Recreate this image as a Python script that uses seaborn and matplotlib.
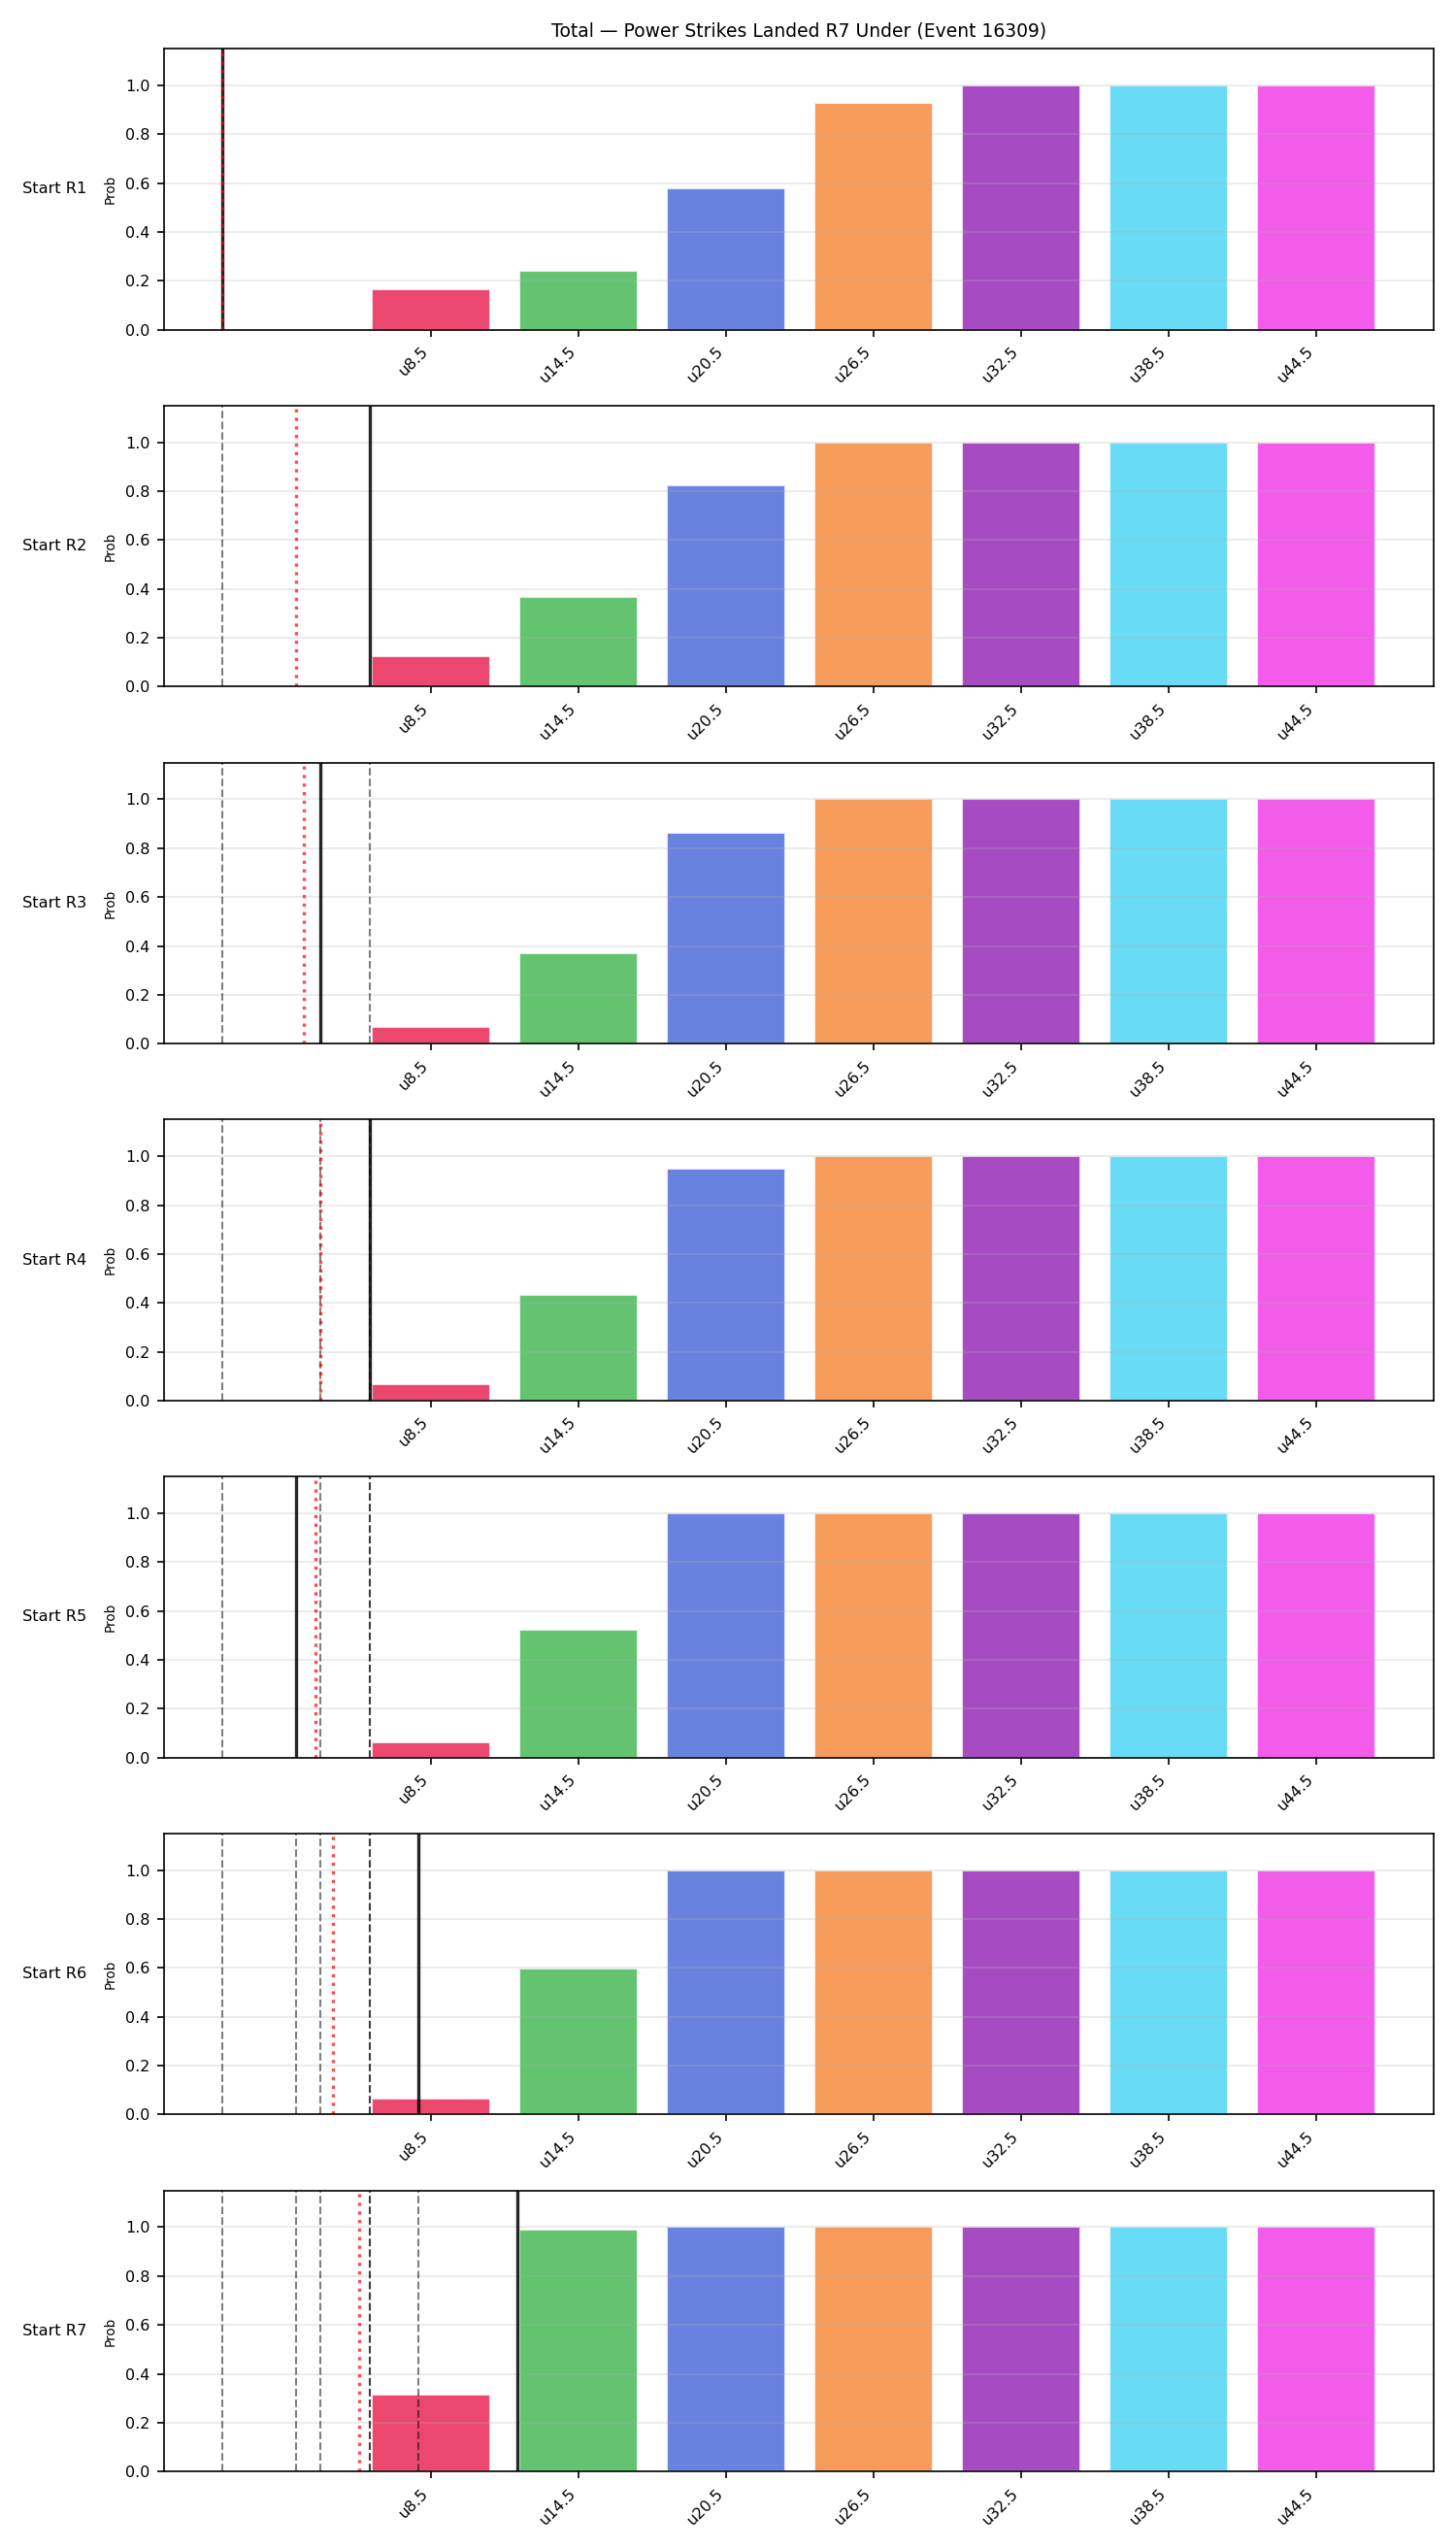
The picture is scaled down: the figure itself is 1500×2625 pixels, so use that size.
import matplotlib
matplotlib.use("Agg")
import matplotlib.pyplot as plt
import seaborn as sns
import pandas as pd

# strike lines shown as bars
line_labels = ["u8.5", "u14.5", "u20.5", "u26.5", "u32.5", "u38.5", "u44.5"]
line_values = [8.5, 14.5, 20.5, 26.5, 32.5, 38.5, 44.5]

# probability of landing under each line, by the round the projection starts from
start_rounds = ["Start R1", "Start R2", "Start R3", "Start R4", "Start R5", "Start R6", "Start R7"]
probs_r1 = [0.165, 0.24, 0.577, 0.93, 1.0, 1.0, 1.0]
probs_r2 = [0.125, 0.367, 0.822, 1.0, 1.0, 1.0, 1.0]
probs_r3 = [0.07, 0.369, 0.862, 1.0, 1.0, 1.0, 1.0]
probs_r4 = [0.066, 0.432, 0.951, 1.0, 1.0, 1.0, 1.0]
probs_r5 = [0.062, 0.522, 1.0, 1.0, 1.0, 1.0, 1.0]
probs_r6 = [0.066, 0.596, 1.0, 1.0, 1.0, 1.0, 1.0]
probs_r7 = [0.314, 0.988, 1.0, 1.0, 1.0, 1.0, 1.0]
all_probs = [probs_r1, probs_r2, probs_r3, probs_r4, probs_r5, probs_r6, probs_r7]

# strikes landed per round (solid line = current round, dashed = earlier rounds)
round_strikes = [0, 6, 4, 6, 3, 8, 12]
# running average up to the current round (red dotted line)
running_avg = [0.0, 3.0, 3.33, 4.0, 3.8, 4.5, 5.57]

palette = ["#e6194b", "#3cb44b", "#4363d8", "#f58231", "#911eb4", "#42d4f4", "#f032e6"]

sns.set_style("ticks", rc={
    "axes.axisbelow": "line",
    "axes.linewidth": 0.8,
    "axes.edgecolor": "black",
    "text.color": "black",
    "axes.labelcolor": "black",
    "xtick.color": "black",
    "ytick.color": "black",
})
plt.rcParams["font.family"] = ["DejaVu Sans"]

fig, axes = plt.subplots(len(start_rounds), 1, figsize=(10, 17.5), dpi=150)
fig.subplots_adjust(left=0.1127, right=0.9844, top=0.9809, bottom=0.030, hspace=0.27)

for i, ax in enumerate(axes):
    df = pd.DataFrame({"line": line_labels, "pos": line_values, "prob": all_probs[i]})
    sns.barplot(data=df, x="pos", y="prob", hue="line", palette=palette, saturation=1,
                native_scale=True, alpha=0.8, legend=False, width=0.8, ax=ax)

    for prev in round_strikes[:i]:
        ax.axvline(prev, color="black", linestyle="--", linewidth=1.0, alpha=0.5)
    ax.axvline(round_strikes[i], color="black", linestyle="-", linewidth=1.6, alpha=0.85)
    ax.axvline(running_avg[i], color="red", linestyle=":", linewidth=1.6, alpha=0.7)

    ax.set_xlim(-2.35, 49.25)
    ax.set_ylim(0, 1.15)
    ax.set_xticks(line_values)
    ax.set_xticklabels(line_labels, rotation=45, ha="right", fontsize=7.7)
    ax.tick_params(axis="y", labelsize=7.7)
    ax.grid(axis="y", color="#b0b0b0", alpha=0.3, linewidth=0.8)
    ax.set_xlabel("")
    ax.set_ylabel("Prob", fontsize=6.5)
    ax.text(-0.0864, 0.5, start_rounds[i], transform=ax.transAxes,
            ha="center", va="center", fontsize=7.8)

axes[0].set_title("Total \u2014 Power Strikes Landed R7 Under (Event 16309)", fontsize=9)

fig.savefig("out.png", dpi=150)
plt.close(fig)
